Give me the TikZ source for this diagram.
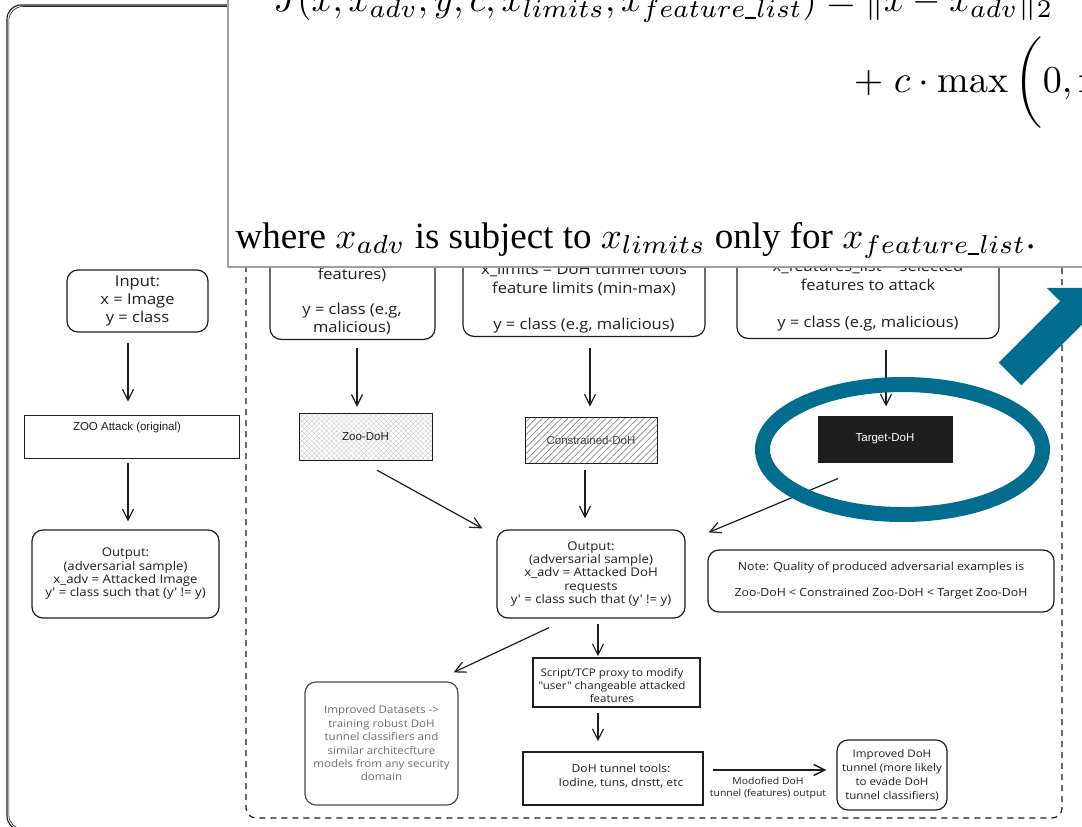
\documentclass[tikz,border=0pt]{standalone}
\usepackage{fontspec}
\usetikzlibrary{arrows.meta,patterns.meta}
\newfontfamily\hand[FakeStretch=1.1]{Open Sans}
\newfontfamily\helv{Liberation Sans}
\newfontfamily\tms{Liberation Serif}
\newcommand{\hfs}[2]{\fontsize{#1}{#2}\selectfont}
\newcommand{\usc}{\rule[-0.03em]{0.3em}{0.045em}}
\definecolor{ink}{HTML}{1E1E1E}
\definecolor{ringblue}{RGB}{0,108,142}
\tikzset{
  ln/.style={line width=1.2pt, draw=ink},
  rbox/.style={ln, rounded corners=11pt},
  arr/.style={ln, -{Straight Barb[length=11pt,width=11pt]}},
  hw/.style={font=\hand, text=ink, align=center, inner sep=0pt},
  lbl/.style={font=\helv\hfs{11.5}{13}, text=ink},
  eq/.style={anchor=base west, inner sep=0pt, scale=3.8},
}
\begin{document}
\begin{tikzpicture}[x=1pt,y=-1pt]
\useasboundingbox (0,0) rectangle (1082,827);
\clip (0,0) rectangle (1082,827);
\fill[white] (0,0) rectangle (1082,827);

% outer solid frame (sketchy double stroke)
\draw[ln, line width=1.1pt, rounded corners=14pt] (1120,830) -- (7,830) -- (7,5) -- (1120,5);
\draw[ln, line width=0.6pt, rounded corners=14pt] (1120,829) -- (8.8,829) -- (8.8,6.5) -- (1120,6.5);

% dashed frame around the DoH pipeline
\draw[ln, dash pattern=on 6pt off 5pt, rounded corners=10pt] (246,-20) -- (246,818) -- (1062,818) -- (1062,-20);

% ---- original ZOO attack column
\node[rbox, minimum width=141pt, minimum height=62pt, hw, font=\hand\hfs{15}{18}] (inL) at (137.5,301) {Input:\\x = Image\\y = class};
\node[ln, line width=1pt, minimum width=215pt, minimum height=43pt] (zooL) at (131.5,436.5) {};
\node[lbl] (zooT) at (127,428) {ZOO Attack (original)};
\node[rbox, minimum width=187pt, minimum height=88pt, hw, font=\hand\hfs{12}{13.3}] (outL) at (125.5,574) {Output:\\(adversarial sample)\\x\_adv = Attacked Image\\y' = class such that (y' != y)};
\draw[arr] ([xshift=-9.5pt,yshift=-10pt]inL.south) -- ([xshift=-3.5pt,yshift=13pt]zooL.north);
\draw[arr] ([xshift=-3.5pt,yshift=-4pt]zooL.south) -- ([xshift=2.5pt,yshift=8pt]outL.north);

% ---- DoH inputs
\node[rbox, minimum width=165pt, minimum height=150pt, anchor=south] (inA) at (352.5,340) {};
\node[rbox, minimum width=242pt, minimum height=150pt, anchor=south] (inB) at (584,337) {};
\node[rbox, minimum width=262pt, minimum height=150pt, anchor=south] (inC) at (868,339) {};
\node[hw, font=\hand\hfs{15}{17.7}] (inAt) at (352,301.5) {features)\\\mbox{}\\y = class (e.g,\\malicious)};
\node[hw, font=\hand\hfs{15}{18.3}] (inBt) at (584,298.5) {x\_limits = DoH tunnel tools\\feature limits (min-max)\\\mbox{}\\y = class (e.g, malicious)};
\node[hw, font=\hand\hfs{15}{18.7}] (inCt) at (868,296) {x\_features\_list = selected\\features to attack\\\mbox{}\\y = class (e.g, malicious)};

% ---- attack variants
\node[ln, line width=1pt, pattern={Hatch[angle=45,distance=3.5pt,line width=0.35pt]}, pattern color=gray!45,
      minimum width=133pt, minimum height=47pt, lbl] (zdoh) at (365.5,436.5) {Zoo-DoH};
\node[ln, line width=1pt, pattern={Lines[angle=45,distance=4.5pt,line width=0.7pt]}, pattern color=gray!95,
      minimum width=132pt, minimum height=46pt, lbl, text=ink!85] (cdoh) at (591,440) {Constrained-DoH};
\node[ln, line width=1pt, fill=ink, minimum width=134pt, minimum height=46pt, lbl, text=white] (tdoh) at (885,439) {Target-DoH};
\draw[arr] ([xshift=4.5pt,yshift=-8pt]inA.south) -- ([xshift=-8.5pt,yshift=6pt]zdoh.north);
\draw[arr] ([xshift=6pt,yshift=-11pt]inB.south) -- ([xshift=-1pt,yshift=10pt]cdoh.north);
\draw[arr] ([xshift=18pt,yshift=-11pt]inC.south) -- ([xshift=1pt,yshift=9pt]tdoh.north);

% ---- adversarial output
\node[rbox, minimum width=188pt, minimum height=88pt, hw, font=\hand\hfs{12}{13.3}] (outC) at (591,574) {Output:\\(adversarial sample)\\x\_adv = Attacked DoH\\requests\\y' = class such that (y' != y)};
\draw[arr] ([xshift=11.5pt,yshift=-10pt]zdoh.south) -- ([xshift=-14pt,yshift=1pt]outC.north west);
\draw[arr] ([xshift=-6pt,yshift=-7pt]cdoh.south) -- ([xshift=-6pt,yshift=11pt]outC.north);
\draw[arr] ([xshift=-47pt,yshift=-16pt]tdoh.south) -- ([xshift=23pt,yshift=-3pt]outC.north east);

\node[rbox, minimum width=346pt, minimum height=62pt, hw, font=\hand\hfs{11.2}{26}] (note) at (881,581) {Note: Quality of produced adversarial examples is\\Zoo-DoH < Constrained Zoo-DoH < Target Zoo-DoH};

% ---- downstream use
\node[rbox, draw=ink!80, minimum width=153pt, minimum height=123pt, hw, text=ink!65, font=\hand\hfs{10.5}{13.4}] (dset) at (381.5,743.5) {Improved Datasets ->\\training robust DoH\\tunnel classifiers and\\similar architecfture\\models from any security\\domain};
\node[ln, line width=1.6pt, minimum width=167pt, minimum height=49pt] (proxy) at (616.5,682.5) {};
\node[hw, font=\hand\hfs{10.5}{13}] (proxyT) at (612,686) {Script/TCP proxy to modify\\"user" changeable attacked\\features};
\node[ln, line width=1.6pt, minimum width=180pt, minimum height=53pt] (tools) at (613,778.5) {};
\node[hw, font=\hand\hfs{11}{14.5}] (toolsT) at (621,776) {DoH tunnel tools:\\Iodine, tuns, dnstt, etc};
\node[rbox, minimum width=110pt, minimum height=70pt, hw, font=\hand\hfs{10.5}{14}] (impr) at (892,775) {Improved DoH\\tunnel (more likely\\to evade DoH\\tunnel classifiers)};
\node[hw, font=\hand\hfs{9.5}{12.5}] (modl) at (768,788) {Modofied DoH\\tunnel (features) output};

\draw[arr] ([xshift=-42pt,yshift=-9pt]outC.south) -- ([xshift=-5pt,yshift=9pt]dset.north east);
\draw[arr] ([xshift=7pt,yshift=-5pt]outC.south) -- ([xshift=-18.5pt,yshift=1pt]proxy.north);
\draw[arr] ([xshift=-18.5pt,yshift=-5pt]proxy.south) -- ([xshift=-15pt,yshift=10pt]tools.north);
\draw[arr, line width=1.5pt] ([xshift=9pt,yshift=8.5pt]tools.east) -- ([xshift=-10pt,yshift=5pt]impr.west);

% ---- highlight ring and pointer
\draw[ringblue, line width=15pt] (902.5,449.5) ellipse [x radius=140pt, y radius=65pt];
\fill[ringblue] (998.7,362.7) -- (1060.2,301.2) -- (1046.7,287.8) -- (1096.2,287.8)
  -- (1096.2,337.2) -- (1082.8,323.8) -- (1021.3,385.3) -- cycle;

% ---- objective function panel
\draw[draw=gray!75, line width=2pt, fill=white] (228,-30) rectangle (1120,267);
\node[eq, scale=3.65/3.8] (eqA) at (273,12)
  {$J(x, x_{adv}, y, c, x_{limits}, x_{feature\usc list}) = \|x - x_{adv}\|_2$};
\node[eq] (eqB) at (853,92)
  {$+\;c\cdot\max\bigg(0, \max$};
\node[eq, scale=3.7/3.8, font=\tms] (eqC) at (235,248)
  {where $x_{adv}$ is subject to $x_{limits}$ only for $x_{feature\usc list}$.};
\end{tikzpicture}
\end{document}
